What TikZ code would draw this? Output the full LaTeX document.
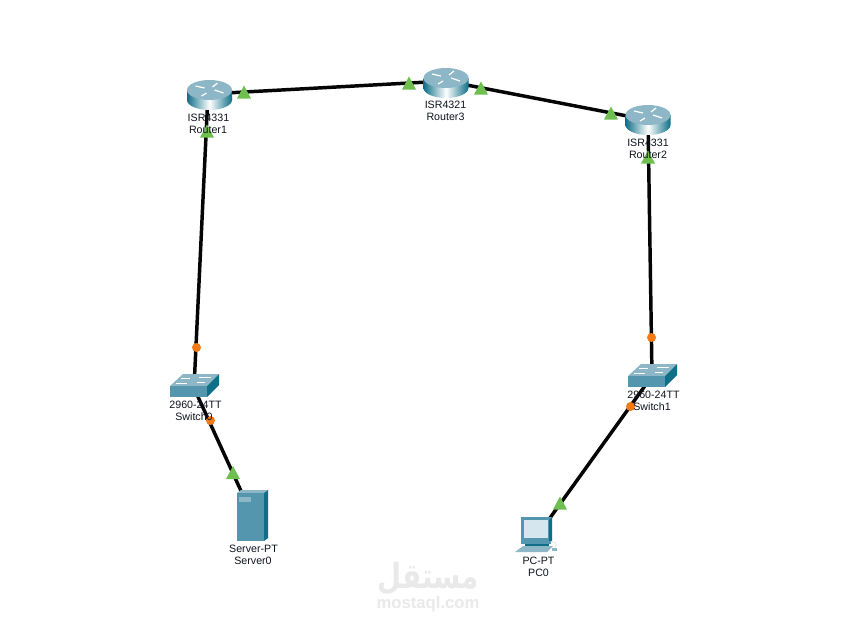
\documentclass[tikz,border=0pt]{standalone}
\usepackage{fontspec}
\setmainfont{Liberation Sans}
\TeXXeTstate=1
\newfontfamily\arabicfont[Script=Arabic]{DejaVu Sans}
\definecolor{linkblack}{HTML}{050505}
\definecolor{portgreen}{HTML}{6FBF50}
\definecolor{portorange}{HTML}{F57A14}
\definecolor{teal1}{HTML}{5396AE}
\definecolor{teal2}{HTML}{0F6F88}
\definecolor{teal3}{HTML}{8DB7C6}
\definecolor{teal4}{HTML}{D6E6EE}
\definecolor{labelink}{HTML}{10141E}
\definecolor{markgrey}{HTML}{E9E9E9}
\tikzset{
  x=0.75pt,y=-0.75pt,
  hub/.style={inner sep=0pt,minimum size=1pt},
  link/.style={draw=linkblack,line width=2.6pt},
  devlabel/.style={text=labelink,font=\fontsize{8pt}{9pt}\selectfont,inner sep=0pt,anchor=center,align=center},
  markar/.style={text=markgrey,inner sep=0pt,transform shape,xscale=0.8,font=\arabicfont\bfseries\fontsize{26pt}{28pt}\selectfont},
  marklat/.style={text=markgrey,inner sep=0pt,font=\bfseries\fontsize{12.5pt}{14pt}\selectfont},
  pics/routericon/.style={code={
    \shade[left color=teal2,right color=teal2,middle color=white]
      (-22.5,-5) -- (-22.5,5) .. controls (-22.5,10.5) and (-12.4,15) .. (0,15)
      .. controls (12.4,15) and (22.5,10.5) .. (22.5,5) -- (22.5,-5) -- cycle;
    \fill[teal3] (0,-5) ellipse[x radius=22.5,y radius=10];
    \draw[white,line width=0.9pt]
      (-14,-9)--(-5,-7) (-3,-2)--(-8,1) (3,-8)--(8,-12) (5,-5)--(14,-2);
  }},
  pics/switchicon/.style={code={
    \fill[teal3] (-24,-2)--(-11,-14)--(25,-14)--(13,-2)--cycle;
    \fill[teal1] (-24,-2)--(13,-2)--(13,9)--(-24,9)--cycle;
    \fill[teal2] (13,-2)--(25,-14)--(25,-3)--(13,9)--cycle;
    \draw[white,line width=0.6pt]
      (-13,-10)--(-4,-10) (5,-11)--(17,-11) (-18,-5)--(-7,-5) (3,-6)--(11,-6);
  }},
  pics/servericon/.style={code={
    \fill[teal3] (-15,-22)--(-11,-25)--(16,-25)--(12,-22)--cycle;
    \fill[teal1] (-15,-22) rectangle (12,26);
    \fill[teal2] (12,-22)--(16,-25)--(16,23)--(12,26)--cycle;
    \fill[teal3] (-13,-18) rectangle (-1,-13);
  }},
  pics/pcicon/.style={code={
    \fill[teal1] (-16,-18) rectangle (15,6);
    \fill[teal2] (15,-18)--(12,-15)--(12,6)--(15,6)--cycle;
    \fill[teal4] (-13,-15) rectangle (11,3);
    \fill[teal1] (-16,6) rectangle (14,9);
    \fill[teal2] (-12,9) rectangle (12,11);
    \fill[teal3] (-22,17)--(-14,11)--(16,11)--(10,17)--cycle;
    \draw[white!70!teal3,line width=0.6pt] (14,7) .. controls (19,7) and (21,9) .. (18,12);
    \fill[teal3] (15,13) rectangle (20,16);
  }}
}
\newcommand{\greenport}[2]{\fill[portgreen] (#1-7,#2+6.5)--(#1,#2-6.5)--(#1+7,#2+6.5)--cycle;}
\newcommand{\orangeport}[2]{\fill[portorange] (#1,#2) circle[radius=4.5];}
\begin{document}
\begin{tikzpicture}
\useasboundingbox (0,0) rectangle (855,626);
\fill[white] (0,0) rectangle (855,626);
% watermark
\node[markar] (markA) at (428,578) {\beginR مستقل\endR};
\node[marklat] (markB) at (428,604) {mostaql.com};
% device anchors
\node[hub] (r1) at (208,94) {};
\node[hub] (r3) at (446,81) {};
\node[hub] (r2) at (648,120) {};
\node[hub] (sw0) at (194,388) {};
\node[hub] (sw1) at (652,376) {};
\node[hub] (srv) at (252,515) {};
\node[hub] (pc) at (537,536) {};
% links
\draw[link] (r1.center) -- (r3.center);
\draw[link] (r3.center) -- (r2.center);
\draw[link] (r1.center) -- (sw0.center);
\draw[link] (r2.center) -- (sw1.center);
\draw[link] (sw0.center) -- (srv.center);
\draw[link] (sw1.center) -- (pc.center);
% ports
\greenport{244}{92}
\greenport{409}{83}
\greenport{481}{88}
\greenport{611}{113}
\greenport{207}{131}
\greenport{648}{157}
\greenport{233}{472.5}
\greenport{560}{503}
\orangeport{196.5}{347.5}
\orangeport{210.5}{420.5}
\orangeport{651.5}{337.5}
\orangeport{630.5}{406.5}
% icons
\pic at (209.5,95) {routericon};
\pic at (446,83) {routericon};
\pic at (648,120) {routericon};
\pic at (194,388) {switchicon};
\pic at (652,378) {switchicon};
\pic at (252,515) {servericon};
\pic at (537,535) {pcicon};
% labels
\node[devlabel] (r1a) at (208.5,117.5) {ISR4331};
\node[devlabel] (r1b) at (208,129.5) {Router1};
\node[devlabel] (r3a) at (445.5,104.5) {ISR4321};
\node[devlabel] (r3b) at (445.5,116.5) {Router3};
\node[devlabel] (r2a) at (648,142.5) {ISR4331};
\node[devlabel] (r2b) at (648,154.5) {Router2};
\node[devlabel] (s0a) at (195.5,404.5) {2960-24TT};
\node[devlabel] (s0b) at (194,416.5) {Switch0};
\node[devlabel] (s1a) at (653.5,394.5) {2960-24TT};
\node[devlabel] (s1b) at (652,406.5) {Switch1};
\node[devlabel] (sva) at (253.5,548.5) {Server-PT};
\node[devlabel] (svb) at (253,560.5) {Server0};
\node[devlabel] (pca) at (538.5,560.5) {PC-PT};
\node[devlabel] (pcb) at (538.5,572.5) {PC0};
\end{tikzpicture}
\end{document}
